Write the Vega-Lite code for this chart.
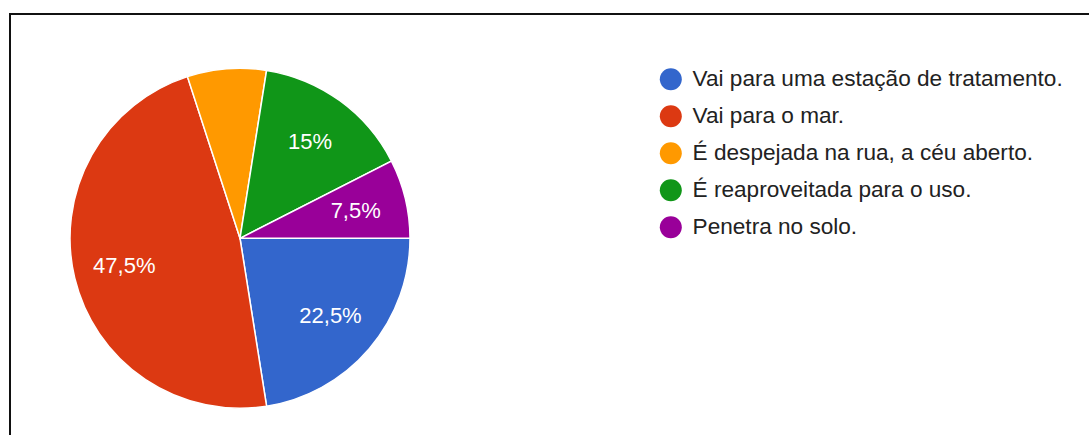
{
  "$schema": "https://vega.github.io/schema/vega-lite/v6.json",
  "autosize": {"type": "none"},
  "padding": {"left": 10, "top": 14, "right": 0, "bottom": 0},
  "width": 1079,
  "height": 421,
  "background": "white",
  "view": {"stroke": "#111111", "strokeWidth": 2, "strokeDash": [1079, 1500, 421]},
  "config": {
    "font": "Liberation Sans"
  },
  "data": {
    "values": [
      {"resposta": "Vai para uma estação de tratamento.", "percentual": 22.5, "ordem": 1, "rotulo": "22,5%"},
      {"resposta": "Vai para o mar.", "percentual": 47.5, "ordem": 2, "rotulo": "47,5%"},
      {"resposta": "É despejada na rua, a céu aberto.", "percentual": 7.5, "ordem": 3, "rotulo": ""},
      {"resposta": "É reaproveitada para o uso.", "percentual": 15, "ordem": 4, "rotulo": "15%"},
      {"resposta": "Penetra no solo.", "percentual": 7.5, "ordem": 5, "rotulo": "7,5%"}
    ]
  },
  "encoding": {
    "theta": {"field": "percentual", "type": "quantitative", "stack": true, "scale": {"range": [1.5707963, 7.8539816]}},
    "order": {"field": "ordem", "type": "quantitative"}
  },
  "layer": [
    {
      "mark": {"type": "arc", "outerRadius": 170, "x": 230, "y": 224.3, "stroke": "white", "strokeWidth": 1.5},
      "encoding": {
        "color": {
          "field": "resposta",
          "type": "nominal",
          "scale": {
            "domain": ["Vai para uma estação de tratamento.", "Vai para o mar.", "É despejada na rua, a céu aberto.", "É reaproveitada para o uso.", "Penetra no solo."],
            "range": ["#3366cc", "#dc3912", "#ff9900", "#109618", "#990099"]
          },
          "legend": {
            "title": null,
            "orient": "none",
            "legendX": 649.5,
            "legendY": 54,
            "padding": 0,
            "symbolType": "circle",
            "symbolSize": 484,
            "symbolStrokeWidth": 0,
            "symbolOpacity": 1,
            "labelFont": "Liberation Sans",
            "labelFontSize": 22.6,
            "labelColor": "#222222",
            "labelOffset": 10.5,
            "rowPadding": 14,
            "labelLimit": 500
          }
        }
      }
    },
    {
      "mark": {"type": "text", "radius": 119, "x": 230, "y": 224.3, "fill": "white", "font": "Liberation Sans", "fontSize": 22, "align": "center", "baseline": "middle"},
      "encoding": {
        "text": {"field": "rotulo", "type": "nominal"}
      }
    }
  ]
}
